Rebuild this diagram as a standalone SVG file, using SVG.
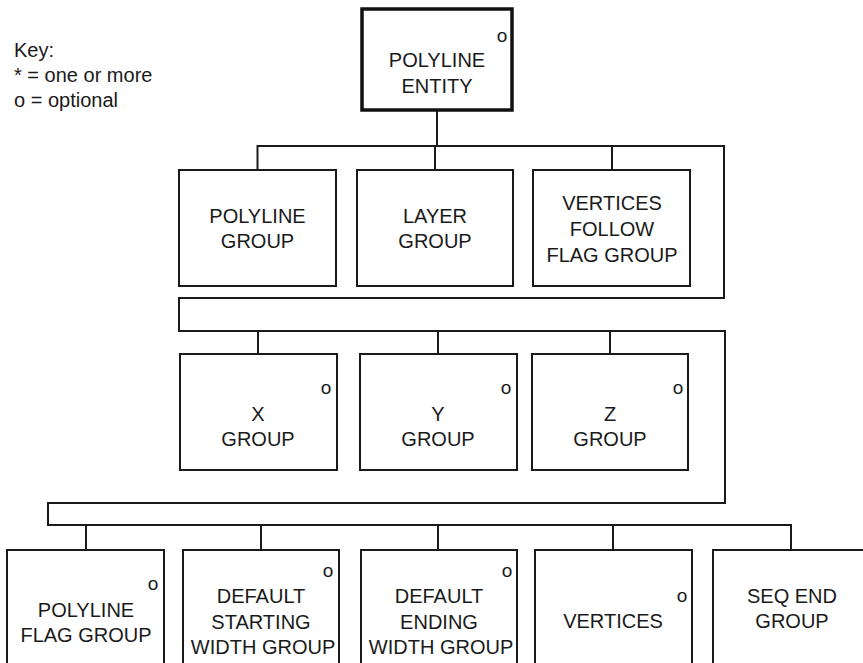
<svg xmlns="http://www.w3.org/2000/svg" width="863" height="663" viewBox="0 0 863 663">
<style>
.box{fill:#fff;stroke:#1a1a1a;stroke-width:2}
.root{fill:#fff;stroke:#111;stroke-width:3.5}
text{font-family:"Liberation Sans",Arial,sans-serif;font-size:20px;fill:#1a1a1a}
.c{text-anchor:middle}
.o{font-size:19px;text-anchor:middle}
.ln{fill:none;stroke:#1a1a1a;stroke-width:2}
</style>
<rect width="863" height="663" fill="#fff"/>
<g id="key">
<text x="14" y="57">Key:</text>
<text x="14" y="82">* = one or more</text>
<text x="14" y="107">o = optional</text>
</g>
<g id="connectors" class="ln">
<path d="M437,110 V146"/>
<path d="M257.5,170 V146 H724 V298 H179 V331 H725 V503 H48 V525 H791 V550"/>
<path d="M435,146 V170 M612,146 V170"/>
<path d="M258,331 V354 M438,331 V354 M610,331 V354"/>
<path d="M86,525 V550 M261,525 V550 M438,525 V550 M613,525 V550"/>
</g>
<g id="polyline-entity">
<rect class="root" x="362" y="9" width="150" height="101"/>
<text class="o" x="502" y="42">o</text>
<text class="c" x="437" y="67">POLYLINE</text>
<text class="c" x="437" y="93">ENTITY</text>
</g>
<g id="polyline-group">
<rect class="box" x="179" y="170" width="157" height="116"/>
<text class="c" x="257.5" y="223">POLYLINE</text>
<text class="c" x="257.5" y="248">GROUP</text>
</g>
<g id="layer-group">
<rect class="box" x="357" y="170" width="156" height="116"/>
<text class="c" x="435" y="223">LAYER</text>
<text class="c" x="435" y="248">GROUP</text>
</g>
<g id="vertices-follow-flag-group">
<rect class="box" x="533" y="170" width="157" height="116"/>
<text class="c" x="612" y="210">VERTICES</text>
<text class="c" x="612" y="236">FOLLOW</text>
<text class="c" x="612" y="262">FLAG GROUP</text>
</g>
<g id="x-group">
<rect class="box" x="180" y="354" width="157" height="116"/>
<text class="o" x="326" y="394">o</text>
<text class="c" x="258" y="421">X</text>
<text class="c" x="258" y="446">GROUP</text>
</g>
<g id="y-group">
<rect class="box" x="360" y="354" width="157" height="116"/>
<text class="o" x="506" y="394">o</text>
<text class="c" x="438" y="421">Y</text>
<text class="c" x="438" y="446">GROUP</text>
</g>
<g id="z-group">
<rect class="box" x="532" y="354" width="156" height="116"/>
<text class="o" x="678" y="394">o</text>
<text class="c" x="610" y="421">Z</text>
<text class="c" x="610" y="446">GROUP</text>
</g>
<g id="polyline-flag-group">
<rect class="box" x="7" y="550" width="157" height="116"/>
<text class="o" x="153" y="590">o</text>
<text class="c" x="86" y="617">POLYLINE</text>
<text class="c" x="86" y="642">FLAG GROUP</text>
</g>
<g id="default-starting-width-group">
<rect class="box" x="183" y="550" width="156" height="116"/>
<text class="o" x="328" y="577">o</text>
<text class="c" x="261" y="603">DEFAULT</text>
<text class="c" x="261" y="629">STARTING</text>
<text class="c" x="263" y="654">WIDTH GROUP</text>
</g>
<g id="default-ending-width-group">
<rect class="box" x="361" y="550" width="156" height="116"/>
<text class="o" x="507" y="577">o</text>
<text class="c" x="439" y="603">DEFAULT</text>
<text class="c" x="439" y="629">ENDING</text>
<text class="c" x="441" y="654">WIDTH GROUP</text>
</g>
<g id="vertices">
<rect class="box" x="535" y="550" width="157" height="116"/>
<text class="o" x="682" y="602">o</text>
<text class="c" x="613" y="628">VERTICES</text>
</g>
<g id="seq-end-group">
<rect class="box" x="713" y="550" width="157" height="116"/>
<text class="c" x="792" y="603">SEQ END</text>
<text class="c" x="792" y="628">GROUP</text>
</g>
</svg>
